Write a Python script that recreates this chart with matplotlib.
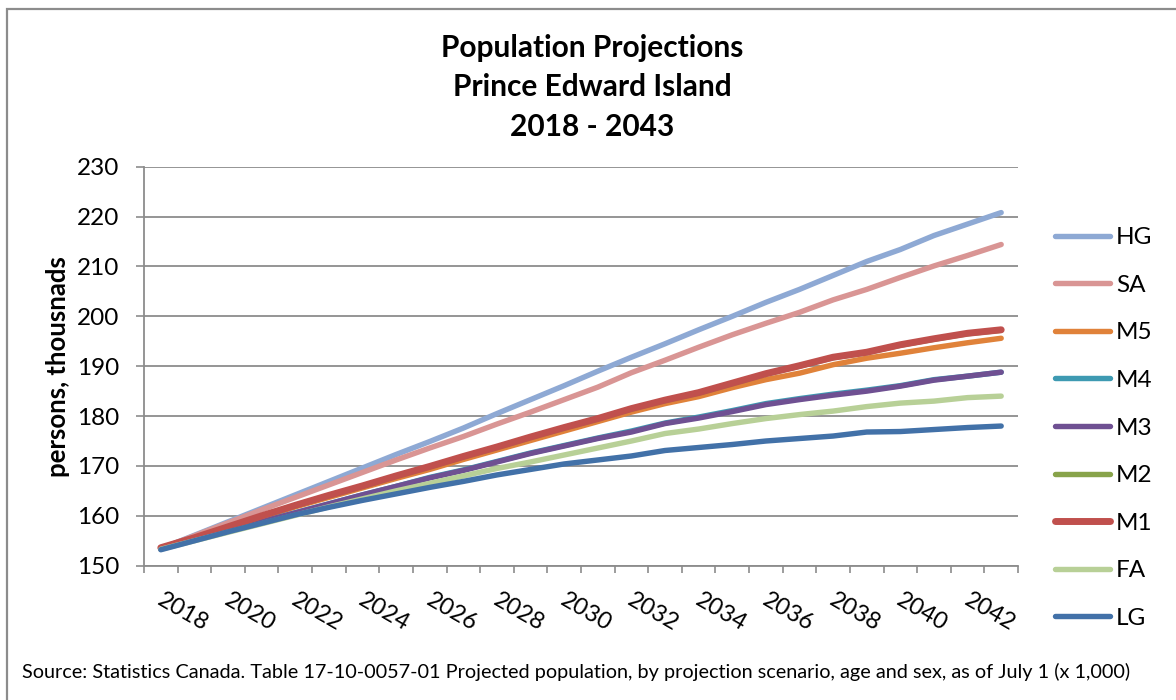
import matplotlib
matplotlib.use("Agg")
import matplotlib.pyplot as plt
from matplotlib.patches import Rectangle

plt.rcParams['font.family'] = ['Lato', 'DejaVu Sans']

years = list(range(2018, 2044))
tick_labels = [str(y) for y in years]

HG = [153.4, 156.1, 158.8, 161.5, 164.2, 166.9, 169.6, 172.3, 174.9, 177.6, 180.5, 183.3, 186.1,
      189.0, 191.8, 194.5, 197.3, 200.0, 202.8, 205.4, 208.2, 211.0, 213.4, 216.2, 218.5, 220.8]
SA = [153.4, 156.0, 158.6, 161.2, 163.7, 166.2, 168.7, 171.2, 173.6, 175.9, 178.4, 180.8, 183.3,
      185.8, 188.7, 191.2, 193.8, 196.3, 198.6, 200.8, 203.3, 205.4, 207.8, 210.1, 212.2, 214.4]
M5 = [153.5, 155.5, 157.6, 159.7, 161.8, 163.7, 165.6, 167.5, 169.3, 171.3, 173.2, 175.1, 177.0,
      178.9, 180.8, 182.5, 183.9, 185.7, 187.3, 188.6, 190.3, 191.6, 192.6, 193.7, 194.7, 195.6]
M4 = [153.4, 155.2, 157.0, 158.8, 160.6, 162.4, 164.2, 165.9, 167.7, 169.2, 170.9, 172.6, 174.1,
      175.6, 177.0, 178.6, 179.8, 181.1, 182.5, 183.5, 184.4, 185.2, 186.1, 187.3, 188.0, 188.8]
M3 = [153.4, 155.2, 157.0, 158.8, 160.6, 162.4, 164.2, 165.9, 167.6, 169.1, 170.8, 172.5, 174.0,
      175.5, 176.8, 178.5, 179.6, 180.9, 182.3, 183.3, 184.2, 185.0, 186.0, 187.2, 188.0, 188.8]
M2 = [153.6, 155.6, 157.7, 159.9, 162.0, 164.0, 165.9, 167.9, 169.8, 171.8, 173.7, 175.7, 177.6,
      179.4, 181.4, 183.1, 184.6, 186.5, 188.4, 190.0, 191.7, 192.7, 194.2, 195.4, 196.5, 197.2]
M1 = [153.6, 155.6, 157.8, 160.0, 162.1, 164.1, 166.0, 168.0, 169.9, 171.9, 173.8, 175.8, 177.7,
      179.5, 181.5, 183.2, 184.7, 186.6, 188.5, 190.1, 191.8, 192.8, 194.3, 195.5, 196.6, 197.3]
FA = [153.3, 155.0, 156.7, 158.4, 160.1, 161.8, 163.4, 165.0, 166.5, 168.0, 169.5, 170.8, 172.2,
      173.6, 175.0, 176.5, 177.4, 178.5, 179.5, 180.3, 181.0, 181.9, 182.6, 183.0, 183.7, 184.0]
LG = [153.2, 155.0, 156.8, 158.5, 160.2, 161.7, 163.1, 164.4, 165.7, 166.9, 168.2, 169.3, 170.4,
      171.2, 172.0, 173.1, 173.7, 174.3, 175.0, 175.5, 176.0, 176.8, 176.9, 177.3, 177.7, 178.0]

series_names = ['HG', 'SA', 'M5', 'M4', 'M3', 'M2', 'M1', 'FA', 'LG']
series_values = [HG, SA, M5, M4, M3, M2, M1, FA, LG]
colors = ['#8EA9D4', '#D99594', '#E0823A', '#3E9AB2', '#6F5092', '#88A34A', '#C0504D', '#B8D097', '#4271A8']
widths = [3.9, 3.9, 3.9, 3.9, 3.9, 3.9, 5.0, 3.9, 3.9]

W, H = 1176, 700
fig = plt.figure(figsize=(W / 100, H / 100), dpi=100)
fig.patch.set_facecolor('white')

# outer border (top/left visible, extends past right/bottom)
fig.add_artist(Rectangle((7 / W, -0.05), 1.1, 1 - 9 / H + 0.05, transform=fig.transFigure,
                         fill=False, edgecolor='#8C8C8C', linewidth=1.6))

ax_l, ax_r, ax_t, ax_b = 144, 1018, 166.7, 565.7
ax = fig.add_axes([ax_l / W, 1 - ax_b / H, (ax_r - ax_l) / W, (ax_b - ax_t) / H])

n = len(years)
xpos = [i + 0.5 for i in range(n)]
for name, vals, c, lw in zip(series_names, series_values, colors, widths):
    ax.plot(xpos, vals, color=c, lw=lw, label=name, solid_capstyle='round',
            solid_joinstyle='round', zorder=3)

ax.set_xlim(0, n)
ax.set_ylim(150, 230)
ax.set_yticks(range(150, 231, 10))
ax.set_xticks(range(0, n + 1))
ax.set_xticklabels([])
ax.set_xticks([i + 0.6 for i in range(0, n, 2)], minor=True)
ax.set_xticklabels([tick_labels[i] for i in range(0, n, 2)], minor=True,
                   rotation=-30, ha='left', va='top', rotation_mode='anchor', fontsize=17)
ax.tick_params(axis='x', which='minor', length=0, pad=17)
ax.tick_params(axis='x', which='major', length=5, width=1.2, color='#8C8C8C', direction='out')
ax.tick_params(axis='y', length=6, width=1.2, color='#8C8C8C', direction='out', labelsize=17.5, pad=12)

ax.grid(axis='y', color='#8C8C8C', lw=1.3, zorder=1)
ax.set_axisbelow(True)
for s in ['top', 'right']:
    ax.spines[s].set_visible(False)
for s in ['left', 'bottom']:
    ax.spines[s].set_color('#8C8C8C')
    ax.spines[s].set_linewidth(1.3)

ax.set_ylabel('persons, thousnads', fontsize=18.5, fontweight='bold', labelpad=5)

fig.text(592 / W, 1 - 87.5 / H, 'Population Projections\nPrince Edward Island\n2018 - 2043',
         ha='center', va='center', fontsize=21.5, fontweight='bold', linespacing=1.5)

leg = fig.legend(loc='center left', bbox_to_anchor=(1055 / W, 1 - 428 / H), frameon=False,
                 fontsize=17.5, handlelength=2.25, handletextpad=0.25, labelspacing=1.09,
                 borderpad=0, borderaxespad=0)

fig.text(22 / W, 1 - 672 / H,
         'Source: Statistics Canada. Table 17-10-0057-01 Projected population, by projection scenario, age and sex, as of July 1 (x 1,000)',
         ha='left', va='center', fontsize=14.3)

fig.savefig('out.png', dpi=100)
